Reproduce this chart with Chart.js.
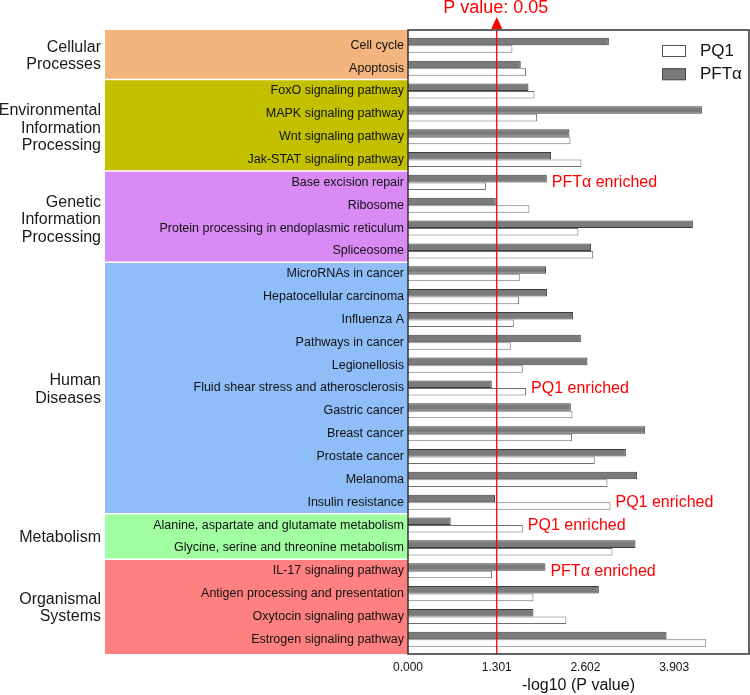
<!DOCTYPE html>
<html><head><meta charset="utf-8">
<script src="https://cdn.jsdelivr.net/npm/chart.js@4.4.1/dist/chart.umd.min.js"></script>
<style>html,body{margin:0;padding:0;background:#fff;}#wrap{width:750px;height:695px;position:relative;}</style>
</head><body><div id="wrap"><canvas id="c" width="750" height="695"></canvas></div>
<script>
const categories = ['Cell cycle','Apoptosis','FoxO signaling pathway','MAPK signaling pathway','Wnt signaling pathway','Jak-STAT signaling pathway','Base excision repair','Ribosome','Protein processing in endoplasmic reticulum','Spliceosome','MicroRNAs in cancer','Hepatocellular carcinoma','Influenza A','Pathways in cancer','Legionellosis','Fluid shear stress and atherosclerosis','Gastric cancer','Breast cancer','Prostate cancer','Melanoma','Insulin resistance','Alanine, aspartate and glutamate metabolism','Glycine, serine and threonine metabolism','IL-17 signaling pathway','Antigen processing and presentation','Oxytocin signaling pathway','Estrogen signaling pathway'];
const pq1Values = [1.531,1.731,1.854,1.893,2.382,2.543,1.145,1.780,2.499,2.715,1.639,1.629,1.551,1.507,1.683,1.731,2.411,2.406,2.739,2.925,2.969,1.683,2.998,1.233,1.839,2.323,4.373];
const pftValues = [2.945,1.653,1.766,4.309,2.367,2.098,2.035,1.287,4.177,2.685,2.025,2.040,2.421,2.534,2.631,1.228,2.387,3.478,3.194,3.360,1.277,0.626,3.336,2.015,2.798,1.839,3.791];
const seriesNames = ['PQ1','PFTα'];
const groupNames = [['Cellular','Processes'],['Environmental','Information','Processing'],['Genetic','Information','Processing'],['Human','Diseases'],['Metabolism'],['Organismal','Systems']];
const groupSizes = [2,4,4,11,2,4];
const groupColors = ['#F4B47D','#C3C000','#DA8AF4','#8EBDF8','#A1FFA1','#FF8080'];
const xTickValues = [0,1.301,2.602,3.903];
const xTickLabels = ['0.000','1.301','2.602','3.903'];
const thresholdValue = 1.301;
const thresholdLabel = 'P value: 0.05';
const enrichedCategories = ['Base excision repair','Fluid shear stress and atherosclerosis','Insulin resistance','Alanine, aspartate and glutamate metabolism','IL-17 signaling pathway'];
const enrichedTexts = ['PFTα enriched','PQ1 enriched','PQ1 enriched','PQ1 enriched','PFTα enriched'];

const FONT = '"Liberation Sans", Arial, Helvetica, sans-serif';
const FRAME_GAP_TOP = 3.9, FRAME_GAP_BOTTOM = 3.3;

const decor = {
  id: 'decor',
  beforeDraw(chart) {
    const ctx = chart.ctx, ca = chart.chartArea, ys = chart.scales.y;
    const rowH = (ys.getPixelForValue(1) - ys.getPixelForValue(0));
    const fTop = ca.top - FRAME_GAP_TOP, fBot = ca.bottom + FRAME_GAP_BOTTOM;
    const bandLeft = 105, bandRight = ca.left;
    let idx = 0;
    ctx.save();
    const bounds = [];
    groupSizes.forEach((n, g) => {
      let top = ys.getPixelForValue(idx) - rowH / 2;
      let bot = ys.getPixelForValue(idx + n - 1) + rowH / 2;
      if (g === 0) top = fTop;
      if (g === groupSizes.length - 1) bot = fBot;
      ctx.fillStyle = groupColors[g];
      ctx.fillRect(bandLeft, top, bandRight - bandLeft, bot - top);
      if (g > 0) bounds.push(top);
      ctx.fillStyle = '#1a1a1a';
      ctx.font = '16px ' + FONT;
      ctx.textAlign = 'right';
      ctx.textBaseline = 'middle';
      const lines = groupNames[g];
      const lh = 17.5;
      const cy = (top + bot) / 2 + (lines.length === 3 ? 3 : 1.5);
      lines.forEach((t, k) => {
        ctx.fillText(t, 101, cy + (k - (lines.length - 1) / 2) * lh);
      });
      idx += n;
    });
    ctx.strokeStyle = '#ffffff';
    ctx.lineWidth = 1.5;
    bounds.forEach(b => {
      ctx.beginPath(); ctx.moveTo(bandLeft, b); ctx.lineTo(bandRight, b); ctx.stroke();
    });
    ctx.restore();
  },
  afterDraw(chart) {
    const ctx = chart.ctx, ca = chart.chartArea, xs = chart.scales.x, ys = chart.scales.y;
    const fTop = ca.top - FRAME_GAP_TOP, fBot = ca.bottom + FRAME_GAP_BOTTOM;
    ctx.save();
    const lx = xs.getPixelForValue(thresholdValue);
    ctx.strokeStyle = '#FF0000';
    ctx.lineWidth = 1.3;
    ctx.beginPath(); ctx.moveTo(lx, fTop); ctx.lineTo(lx, fBot); ctx.stroke();
    ctx.fillStyle = '#FF0000';
    ctx.beginPath();
    ctx.moveTo(lx, fTop - 13);
    ctx.lineTo(lx - 5.5, fTop - 1);
    ctx.lineTo(lx + 5.5, fTop - 1);
    ctx.closePath(); ctx.fill();
    ctx.font = '18px ' + FONT;
    ctx.textAlign = 'center';
    ctx.textBaseline = 'middle';
    ctx.fillText(thresholdLabel, lx - 1, fTop - 21.5);
    ctx.font = '16px ' + FONT;
    ctx.textAlign = 'left';
    enrichedCategories.forEach((c, k) => {
      const i = categories.indexOf(c);
      const v = Math.max(pq1Values[i], pftValues[i]);
      ctx.fillText(enrichedTexts[k], xs.getPixelForValue(v) + 5, ys.getPixelForValue(i) + 0.5);
    });
    const bx = ca.right - 87;
    const fills = ['#ffffff', '#7b7b7b'];
    const strokes = ['#555555', '#444444'];
    ctx.font = '17px ' + FONT;
    ctx.textBaseline = 'middle';
    seriesNames.forEach((name, k) => {
      const by = fTop + 15 + k * 23.3;
      ctx.fillStyle = fills[k];
      ctx.fillRect(bx, by, 24, 11.5);
      ctx.strokeStyle = strokes[k];
      ctx.lineWidth = 1;
      ctx.strokeRect(bx + 0.5, by + 0.5, 23, 11);
      ctx.fillStyle = '#111111';
      ctx.fillText(name, bx + 38, by + 6);
    });
    ctx.strokeStyle = '#333333';
    ctx.lineWidth = 1.5;
    ctx.strokeRect(ca.left, fTop, ca.right - ca.left, fBot - fTop);
    ctx.restore();
  }
};

new Chart(document.getElementById('c'), {
  type: 'bar',
  data: {
    labels: categories,
    datasets: [
      { label: seriesNames[1], data: pftValues, backgroundColor: '#7b7b7b', borderColor: '#3d3d3d', borderWidth: 1 },
      { label: seriesNames[0], data: pq1Values, backgroundColor: '#ffffff', borderColor: '#6e6e6e', borderWidth: 1 }
    ]
  },
  options: {
    indexAxis: 'y',
    responsive: false,
    devicePixelRatio: 1,
    animation: false,
    layout: { padding: { top: 33.9, right: 1, bottom: 0, left: 0 } },
    datasets: { bar: { barPercentage: 1, categoryPercentage: 0.66 } },
    plugins: { legend: { display: false }, tooltip: { enabled: false } },
    scales: {
      x: {
        type: 'linear', min: 0, max: 5,
        afterBuildTicks: (s) => { s.ticks = xTickValues.map(v => ({ value: v })); },
        afterFit: (s) => { s.height = 44.3; },
        grid: { display: false, drawTicks: false },
        border: { display: false },
        ticks: {
          autoSkip: false, maxRotation: 0, padding: 10, color: '#111111',
          font: { family: FONT, size: 12 },
          callback: (v) => { const i = xTickValues.indexOf(v); return i >= 0 ? xTickLabels[i] : ''; }
        },
        title: { display: true, text: '-log10 (P value)', color: '#111111', font: { family: FONT, size: 16 }, padding: { top: 0, bottom: 0 } }
      },
      y: {
        afterFit: (s) => { s.width = 408; },
        grid: { display: false, drawTicks: false },
        border: { display: false },
        ticks: { autoSkip: false, padding: 4, color: '#111111', font: { family: FONT, size: 12.5 } }
      }
    }
  },
  plugins: [decor]
});
</script>
</body></html>
